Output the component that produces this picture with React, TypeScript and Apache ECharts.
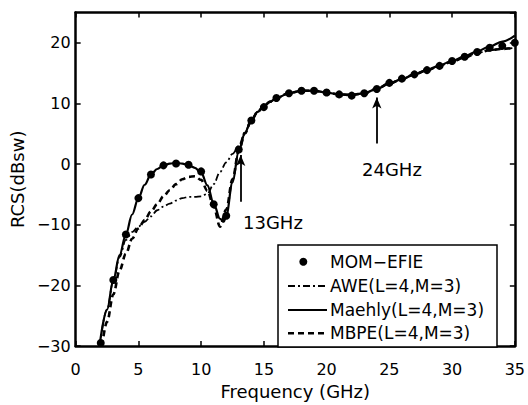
import React, { useEffect, useRef } from "react";
import * as echarts from "echarts";

// MOM-EFIE reference samples
const momFreq = [2, 3, 4, 5, 6, 7, 8, 9, 10, 11, 12, 13, 14, 15, 16, 17, 18, 19, 20, 21, 22, 23, 24, 25, 26, 27, 28, 29, 30, 31, 32, 33, 34, 35];
const momRcs = [-29.5, -19.1, -11.6, -5.6, -1.7, -0.2, 0.1, -0.1, -1.2, -6.6, -8.5, 2.4, 7.2, 9.4, 10.9, 11.7, 12.1, 12.1, 11.8, 11.5, 11.3, 11.7, 12.4, 13.4, 14.1, 14.8, 15.5, 16.2, 17.0, 17.7, 18.5, 19.2, 19.5, 20.0];

// Maehly (L=4, M=3)
const maehlyFreq = [1.9, 2.5, 3, 3.5, 4, 4.5, 5, 5.5, 6, 6.5, 7, 7.5, 8, 8.5, 9, 9.5, 10, 10.5, 11, 11.5, 11.8, 12, 12.5, 13, 13.5, 14, 14.5, 15, 15.5, 16, 17, 18, 19, 20, 21, 22, 23, 24, 25, 26, 27, 28, 29, 30, 31, 32, 33, 34, 35];
const maehlyRcs = [-30, -24, -19.1, -15, -11.6, -8.3, -5.6, -3.4, -1.7, -0.8, -0.2, 0.1, 0.2, 0.1, -0.2, -0.6, -1.4, -3.5, -6.5, -9.0, -9.5, -8.5, -3.0, 2.2, 5.2, 7.3, 8.6, 9.6, 10.3, 10.9, 11.7, 12.1, 12.1, 11.8, 11.5, 11.4, 11.7, 12.4, 13.3, 14.0, 14.8, 15.5, 16.3, 17.0, 17.8, 18.6, 19.4, 20.2, 21.2];

// AWE (L=4, M=3)
const aweFreq = [1.9, 2.5, 3, 3.5, 4, 4.5, 5, 5.5, 6, 6.5, 7, 7.5, 8, 8.5, 9, 9.5, 10, 10.5, 11, 11.5, 12, 12.5, 13, 13.5, 14, 14.5, 15, 15.5, 16, 17, 18, 19, 20, 21, 22, 23, 24, 25, 26, 27, 28, 29, 30, 31, 32, 33, 34, 35];
const aweRcs = [-30, -24, -19.3, -15.3, -12.5, -11.2, -10.3, -9.5, -8.6, -7.6, -7.0, -6.5, -6.0, -5.6, -5.4, -5.4, -5.3, -4.9, -3.3, -1.3, 0.3, 1.7, 3.0, 5.3, 7.3, 8.6, 9.6, 10.3, 10.9, 11.7, 12.1, 12.1, 11.8, 11.5, 11.4, 11.7, 12.4, 13.3, 14.0, 14.8, 15.5, 16.2, 16.9, 17.6, 18.3, 18.8, 19.0, 19.2];

// MBPE (L=4, M=3)
const mbpeFreq = [2.1, 2.5, 3, 3.5, 4, 4.5, 5, 5.5, 6, 6.5, 7, 7.5, 8, 8.5, 9, 9.5, 10, 10.5, 11, 11.5, 12, 12.5, 13, 13.5, 14, 14.5, 15, 15.5, 16, 17, 18, 19, 20, 21, 22, 23, 24, 25, 26, 27, 28, 29, 30, 31, 32, 33, 34, 35];
const mbpeRcs = [-30, -26, -21.5, -17.5, -14.8, -12.3, -10.6, -9.2, -7.8, -6.6, -5.3, -4.3, -3.3, -2.5, -2.1, -2.0, -2.6, -4.4, -7.0, -10.3, -7.5, -2.5, 2.2, 5.1, 7.2, 8.6, 9.6, 10.3, 10.9, 11.7, 12.1, 12.1, 11.8, 11.5, 11.4, 11.7, 12.4, 13.3, 14.0, 14.8, 15.5, 16.2, 16.9, 17.6, 18.3, 18.8, 19.0, 19.2];

// Annotation arrows
const arrowFreq = [13.15, 24];
const arrowTail = [-6.2, 3.4];
const arrowHead = [1.5, 11.0];

const legendNames = ["MOM\u2212EFIE", "AWE(L=4,M=3)", "Maehly(L=4,M=3)", "MBPE(L=4,M=3)"];

const FONT = "DejaVu Sans";

function zip(xs: number[], ys: number[]) {
  return xs.map((x, i) => [x, ys[i]]);
}

export default function App() {
  const ref = useRef<HTMLDivElement>(null);
  useEffect(() => {
    document.body.style.margin = "0";
    const chart = echarts.init(ref.current!, undefined, { renderer: "svg" });
    const fmt = (v: number) => String(v).replace("-", "\u2212");
    const lineCommon = {
      type: "line" as const,
      showSymbol: false,
      symbol: "none",
      smooth: 0.35,
      smoothMonotone: "x" as const,
      clip: true,
      silent: true,
    };
    const legX0 = 288;
    const legX1 = 327;
    const legRows = [261.7, 286, 310, 333.3];
    chart.setOption({
      animation: false,
      backgroundColor: "#ffffff",
      grid: { left: 75, right: 13, top: 12.5, bottom: 48.3 },
      xAxis: [
        {
          type: "value",
          min: 0,
          max: 35,
          interval: 5,
          position: "bottom",
          name: "Frequency (GHz)",
          nameLocation: "middle",
          nameGap: 32,
          nameTextStyle: { fontFamily: FONT, fontSize: 18, color: "#000" },
          axisLine: { show: true, onZero: false, lineStyle: { color: "#000", width: 2.5 } },
          axisTick: { show: true, inside: true, length: 5, lineStyle: { color: "#000", width: 1.5 } },
          axisLabel: { fontFamily: FONT, fontSize: 16, color: "#000", margin: 15, formatter: fmt },
          splitLine: { show: false },
        },
        {
          type: "value",
          min: 0,
          max: 35,
          interval: 5,
          position: "top",
          axisLine: { show: true, onZero: false, lineStyle: { color: "#000", width: 2.5 } },
          axisTick: { show: true, inside: true, length: 5, lineStyle: { color: "#000", width: 1.5 } },
          axisLabel: { show: false },
          splitLine: { show: false },
        },
      ],
      yAxis: [
        {
          type: "value",
          min: -30,
          max: 25,
          interval: 10,
          position: "left",
          name: "RCS(dBsw)",
          nameLocation: "middle",
          nameRotate: 90,
          nameGap: 40,
          nameTextStyle: { fontFamily: FONT, fontSize: 18, color: "#000" },
          axisLine: { show: true, onZero: false, lineStyle: { color: "#000", width: 2.5 } },
          axisTick: { show: true, inside: true, length: 5, lineStyle: { color: "#000", width: 1.5 } },
          axisLabel: { fontFamily: FONT, fontSize: 16, color: "#000", margin: 5, showMaxLabel: false, formatter: fmt },
          splitLine: { show: false },
        },
        {
          type: "value",
          min: -30,
          max: 25,
          interval: 10,
          position: "right",
          axisLine: { show: true, onZero: false, lineStyle: { color: "#000", width: 2.5 } },
          axisTick: { show: true, inside: true, length: 5, lineStyle: { color: "#000", width: 1.5 } },
          axisLabel: { show: false },
          splitLine: { show: false },
        },
      ],
      series: [
        {
          ...lineCommon,
          name: legendNames[1],
          data: zip(aweFreq, aweRcs),
          lineStyle: { color: "#000", width: 1.8, type: [7, 3, 2, 3] },
        },
        {
          ...lineCommon,
          name: legendNames[3],
          data: zip(mbpeFreq, mbpeRcs),
          lineStyle: { color: "#000", width: 2.6, type: [6, 4] },
        },
        {
          ...lineCommon,
          name: legendNames[2],
          data: zip(maehlyFreq, maehlyRcs),
          lineStyle: { color: "#000", width: 2.2, type: "solid" },
          markLine: {
            silent: true,
            symbol: ["none", "arrow"],
            symbolSize: [7, 11],
            label: { show: false },
            lineStyle: { color: "#000", width: 1.8, type: "solid" },
            data: arrowFreq.map((f, i) => [
              { coord: [f, arrowTail[i]] },
              { coord: [f, arrowHead[i]] },
            ]),
          },
        },
        {
          type: "scatter",
          name: legendNames[0],
          data: zip(momFreq, momRcs),
          symbol: "circle",
          symbolSize: 8,
          itemStyle: { color: "#000", opacity: 1 },
          silent: true,
          clip: false,
        },
      ],
      graphic: [
        { type: "text", left: 243, top: 213, style: { text: "13GHz", font: `18px "${FONT}"`, fill: "#000" } },
        { type: "text", left: 362, top: 160, style: { text: "24GHz", font: `18px "${FONT}"`, fill: "#000" } },
        {
          type: "rect",
          shape: { x: 278, y: 245, width: 219, height: 102 },
          style: { fill: "#fff", stroke: "#000", lineWidth: 1.5 },
          z: 100,
        },
        { type: "circle", shape: { cx: 303.3, cy: legRows[0], r: 4 }, style: { fill: "#000" }, z: 101 },
        {
          type: "line",
          shape: { x1: legX0, y1: legRows[1], x2: legX1, y2: legRows[1] },
          style: { stroke: "#000", lineWidth: 1.8, lineDash: [7, 3, 2, 3] },
          z: 101,
        },
        {
          type: "line",
          shape: { x1: legX0, y1: legRows[2], x2: legX1, y2: legRows[2] },
          style: { stroke: "#000", lineWidth: 2.2 },
          z: 101,
        },
        {
          type: "line",
          shape: { x1: legX0, y1: legRows[3], x2: legX1, y2: legRows[3] },
          style: { stroke: "#000", lineWidth: 2.6, lineDash: [6, 4] },
          z: 101,
        },
        ...legendNames.map((n, i) => ({
          type: "text",
          x: 330,
          y: legRows[i],
          z: 101,
          style: { text: n, font: `17px "${FONT}"`, fill: "#000", verticalAlign: "middle", align: "left" },
        })),
      ],
    });
    return () => chart.dispose();
  }, []);
  return <div ref={ref} style={{ position: "absolute", left: 0, top: 0, width: 528, height: 405 }} />;
}
